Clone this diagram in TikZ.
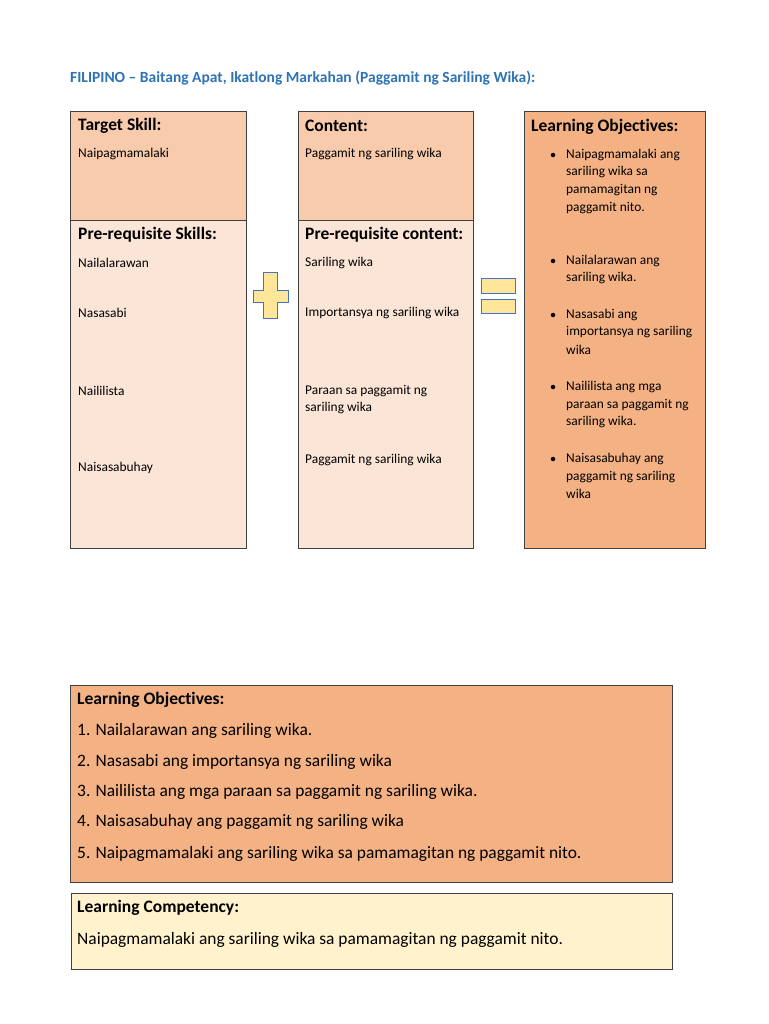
\documentclass[tikz,border=0pt]{standalone}
\usepackage{fontspec}
\setmainfont[Ligatures=NoCommon]{Carlito}
\definecolor{titleblue}{HTML}{2E74B5}
\definecolor{peach}{HTML}{F8CBAD}
\definecolor{lightpeach}{HTML}{FBE5D6}
\definecolor{orangebox}{HTML}{F4B183}
\definecolor{cream}{HTML}{FFF2CC}
\definecolor{symfill}{HTML}{FFE699}
\definecolor{symblue}{HTML}{4472C4}
\definecolor{edge}{HTML}{404040}
\begin{document}
\begin{tikzpicture}[x=1pt,y=-1pt,
  boxline/.style={draw=edge,line width=0.9pt},
  sym/.style={draw=symblue,fill=symfill,line width=0.8pt},
  head/.style={anchor=west,inner sep=0pt,font=\fontsize{17.5}{19}\selectfont\bfseries},
  small/.style={anchor=west,inner sep=0pt,font=\fontsize{13.4}{15}\selectfont},
  bhead/.style={anchor=west,inner sep=0pt,font=\fontsize{17.5}{19}\selectfont\bfseries},
  btext/.style={anchor=west,inner sep=0pt,font=\fontsize{17.4}{19}\selectfont},
  dot/.style={circle,fill=black,inner sep=0pt,minimum size=4.5pt}]
\useasboundingbox (0,0) rectangle (768,1024);
\fill[white] (0,0) rectangle (768,1024);
% title
\node[anchor=west,inner sep=0pt,text=titleblue,font=\fontsize{15.5}{17}\selectfont\bfseries] (title) at (70,78) {FILIPINO – Baitang Apat, Ikatlong Markahan (Paggamit ng Sariling Wika):};
% left column
\path[boxline,fill=peach] (70,111) rectangle (246,220);
\path[boxline,fill=lightpeach] (70,220) rectangle (246,548);
\node[head] (ts) at (78,126) {Target Skill:};
\node[small] (ts1) at (78,154) {Naipagmamalaki};
\node[head] (ps) at (78,235) {Pre-requisite Skills:};
\node[small] (ps1) at (78,263) {Nailalarawan};
\node[small] (ps2) at (78,313) {Nasasabi};
\node[small] (ps3) at (78,391) {Naililista};
\node[small] (ps4) at (78,468) {Naisasabuhay};
% middle column
\path[boxline,fill=peach] (298,111) rectangle (473,220);
\path[boxline,fill=lightpeach] (298,220) rectangle (473,548);
\node[head] (ct) at (305,126) {Content:};
\node[small] (ct1) at (305,154) {Paggamit ng sariling wika};
\node[head] (pc) at (305,235) {Pre-requisite content:};
\node[small] (pc1) at (305,263) {Sariling wika};
\node[small] (pc2) at (305,313) {Importansya ng sariling wika};
\node[small] (pc3) at (305,391) {Paraan sa paggamit ng};
\node[small] (pc3b) at (305,408) {sariling wika};
\node[small] (pc4) at (305,460) {Paggamit ng sariling wika};
% right column
\path[boxline,fill=orangebox] (524,111) rectangle (705,548);
\node[head] (lo) at (531,127) {Learning Objectives:};
\foreach \y in {155,261,315,387,459} \node[dot] at (553,\y) {};
\node[small] (lo1a) at (566,155) {Naipagmamalaki ang};
\node[small] (lo1b) at (566,172) {sariling wika sa};
\node[small] (lo1c) at (566,190) {pamamagitan ng};
\node[small] (lo1d) at (566,208) {paggamit nito.};
\node[small] (lo2a) at (566,261) {Nailalarawan ang};
\node[small] (lo2b) at (566,278) {sariling wika.};
\node[small] (lo3a) at (566,315) {Nasasabi ang};
\node[small] (lo3b) at (566,332) {importansya ng sariling};
\node[small] (lo3c) at (566,350) {wika};
\node[small] (lo4a) at (566,387) {Naililista ang mga};
\node[small] (lo4b) at (566,405) {paraan sa paggamit ng};
\node[small] (lo4c) at (566,422) {sariling wika.};
\node[small] (lo5a) at (566,459) {Naisasabuhay ang};
\node[small] (lo5b) at (566,477) {paggamit ng sariling};
\node[small] (lo5c) at (566,494) {wika};
% plus sign
\path[sym] (263,272) -- (277,272) -- (277,290) -- (288,290) -- (288,302) -- (277,302) -- (277,318) -- (263,318) -- (263,302) -- (253,302) -- (253,290) -- (263,290) -- cycle;
% equals sign
\path[sym] (481,278) rectangle (515,293);
\path[sym] (481,299) rectangle (515,313);
% bottom objectives
\path[boxline,fill=orangebox] (70,685) rectangle (672,882);
\node[bhead] (blo) at (77,700) {Learning Objectives:};
\node[btext] (b1) at (77,731) {1. Nailalarawan ang sariling wika.};
\node[btext] (b2) at (77,762) {2. Nasasabi ang importansya ng sariling wika};
\node[btext] (b3) at (77,792) {3. Naililista ang mga paraan sa paggamit ng sariling wika.};
\node[btext] (b4) at (77,822) {4. Naisasabuhay ang paggamit ng sariling wika};
\node[btext] (b5) at (77,854) {5. Naipagmamalaki ang sariling wika sa pamamagitan ng paggamit nito.};
% competency
\path[boxline,fill=cream] (71,893) rectangle (672,969);
\node[bhead] (lc) at (77,908) {Learning Competency:};
\node[btext] (lc1) at (77,940) {Naipagmamalaki ang sariling wika sa pamamagitan ng paggamit nito.};
\end{tikzpicture}
\end{document}
